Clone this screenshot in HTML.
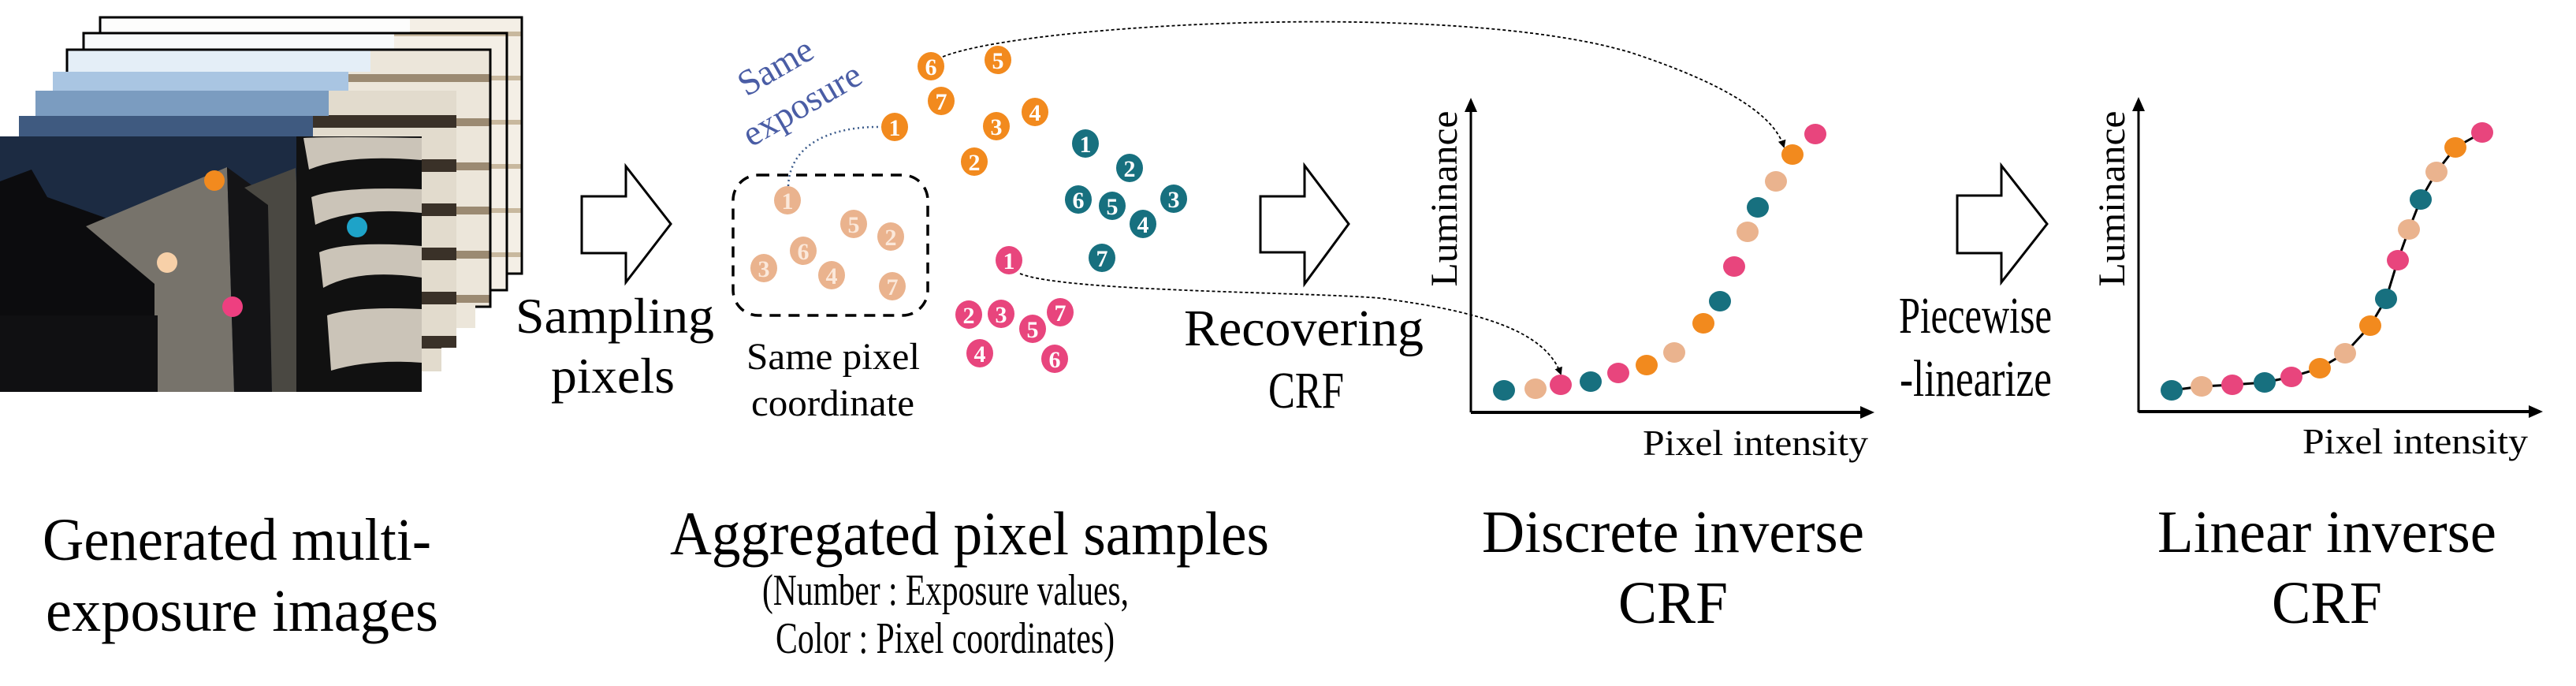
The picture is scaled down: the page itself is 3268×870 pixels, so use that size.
<!DOCTYPE html>
<html><head><meta charset="utf-8"><style>
html,body{margin:0;padding:0;background:#fff;}
svg{display:block;}
svg, svg text{font-family:"Liberation Serif","DejaVu Serif","Noto Serif CJK SC",serif;}
</style></head><body>
<svg width="3268" height="870" viewBox="0 0 3268 870" xmlns="http://www.w3.org/2000/svg">
<defs>
<marker id="ah" markerWidth="10" markerHeight="10" refX="8" refY="5" orient="auto" markerUnits="userSpaceOnUse"><path d="M0,0 L10,5 L0,10 z" fill="#000"/></marker>
<marker id="ax" markerWidth="18" markerHeight="16" refX="14" refY="8" orient="auto" markerUnits="userSpaceOnUse"><path d="M0,0 L18,8 L0,16 z" fill="#000"/></marker>
<pattern id="st1" width="60" height="56" patternUnits="userSpaceOnUse"><rect width="60" height="56" fill="#f4efe6"/><rect y="40" width="60" height="6" fill="#c8b89e"/></pattern>
<pattern id="st2" width="60" height="56" patternUnits="userSpaceOnUse"><rect width="60" height="56" fill="#ece6da"/><rect y="38" width="60" height="10" fill="#9b8a72"/></pattern>
<pattern id="st3" width="60" height="56" patternUnits="userSpaceOnUse"><rect width="60" height="56" fill="#e2dbcd"/><rect y="34" width="60" height="16" fill="#3a3128"/></pattern>
</defs>
<rect width="3268" height="870" fill="#fff"/>

<rect x="127" y="22" width="535" height="325" fill="#fdfdfc"/>
<rect x="520" y="22" width="142" height="325" fill="url(#st1)"/>
<rect x="127" y="22" width="535" height="325" fill="none" stroke="#000" stroke-width="3"/>
<rect x="106" y="42" width="537" height="326" fill="#f8fafb"/>
<rect x="500" y="42" width="143" height="326" fill="url(#st1)"/>
<rect x="106" y="42" width="537" height="326" fill="none" stroke="#000" stroke-width="3"/>
<rect x="85" y="63" width="537" height="326" fill="#e4eef7"/>
<rect x="470" y="63" width="152" height="326" fill="url(#st2)"/>
<rect x="85" y="63" width="537" height="326" fill="none" stroke="#000" stroke-width="3"/>
<rect x="67" y="91" width="536" height="325" fill="#a9c5e2"/>
<rect x="442" y="91" width="161" height="325" fill="url(#st2)"/>
<rect x="45" y="115" width="534" height="326" fill="#7b9cc0"/>
<rect x="417" y="115" width="162" height="326" fill="url(#st3)"/>
<rect x="24" y="147" width="536" height="324" fill="#3f5a80"/>
<rect x="397" y="147" width="163" height="324" fill="url(#st3)"/>
<rect x="0" y="173" width="535" height="324" fill="#1c2b42"/>
<polygon points="0,230 40,215 60,250 200,300 200,497 0,497" fill="#0c0c0e"/>
<polygon points="109,287 288,212 297,497 196,497 196,360" fill="#77736b"/>
<polygon points="288,212 340,250 345,497 297,497" fill="#141416"/>
<polygon points="310,238 375,213 390,497 345,497 340,260" fill="#4a4842"/>
<polygon points="0,400 200,400 200,497 0,497" fill="#101012"/>
<rect x="376" y="173" width="159" height="324" fill="#111"/>
<path d="M385 175 Q420 173 535 175 L535 203 Q440 195 392 215 Z" fill="#cbc4b8"/>
<path d="M395 250 Q430 236 535 240 L535 270 Q450 262 400 285 Z" fill="#cbc4b8"/>
<path d="M405 320 Q440 305 535 312 L535 352 Q455 340 410 365 Z" fill="#cbc4b8"/>
<path d="M415 400 Q450 388 535 392 L535 460 Q470 455 420 470 Z" fill="#cbc4b8"/>
<circle cx="272" cy="229" r="13" fill="#f28a1e"/>
<circle cx="453" cy="288" r="13" fill="#1ea3c8"/>
<circle cx="212" cy="333" r="13" fill="#f7d0a8"/>
<circle cx="295" cy="389" r="13" fill="#ee3f80"/>

<polygon points="738,249 794,249 794,211 851,284 794,358 794,321 738,321" fill="#fff" stroke="#000" stroke-width="3"/>
<polygon points="1599,249 1655,249 1655,210 1711,284 1655,360 1655,320 1599,320" fill="#fff" stroke="#000" stroke-width="3"/>
<polygon points="2483,248 2539,248 2539,210 2597,284 2539,358 2539,321 2483,321" fill="#fff" stroke="#000" stroke-width="3"/>

<text x="654" y="422" font-size="64" textLength="252" lengthAdjust="spacingAndGlyphs">Sampling</text>
<text x="699" y="498" font-size="64" textLength="157" lengthAdjust="spacingAndGlyphs">pixels</text>
<text x="1502" y="438" font-size="66" textLength="304" lengthAdjust="spacingAndGlyphs">Recovering</text>
<text x="1609" y="517" font-size="66" textLength="96" lengthAdjust="spacingAndGlyphs">CRF</text>
<text x="2409" y="422" font-size="66" textLength="194" lengthAdjust="spacingAndGlyphs">Piecewise</text>
<text x="2410" y="502" font-size="66" textLength="193" lengthAdjust="spacingAndGlyphs">-linearize</text>

<rect x="930" y="222" width="247" height="178" rx="32" fill="none" stroke="#000" stroke-width="3.5" stroke-dasharray="14,10"/>
<text x="947" y="468" font-size="48" textLength="220" lengthAdjust="spacingAndGlyphs">Same pixel</text>
<text x="953" y="527" font-size="48" textLength="207" lengthAdjust="spacingAndGlyphs">coordinate</text>

<text x="947" y="123" font-size="46" fill="#4a5da5" transform="rotate(-30 947 123)">Same</text>
<text x="953" y="187" font-size="46" fill="#4a5da5" transform="rotate(-30 953 187)">exposure</text>

<path d="M1000 236 C1002 180 1060 160 1118 161" fill="none" stroke="#3a5a8a" stroke-width="2.5" stroke-dasharray="2,4"/>
<path d="M1196 72 C1300 30 1850 0 2070 67 C2200 110 2252 150 2263 186" fill="none" stroke="#000" stroke-width="1.8" stroke-dasharray="4,3" marker-end="url(#ah)"/>
<path d="M1294 347 C1350 370 1650 370 1750 378 C1880 395 1960 420 1980 474" fill="none" stroke="#000" stroke-width="1.8" stroke-dasharray="4,3" marker-end="url(#ah)"/>

<g font-size="30" fill="#fff" text-anchor="middle" font-weight="bold">
<g fill="#f28a1e">
<ellipse cx="1181" cy="84" rx="17" ry="18"/><ellipse cx="1266" cy="76" rx="17" ry="18"/><ellipse cx="1194" cy="128" rx="17" ry="18"/><ellipse cx="1313" cy="142" rx="17" ry="18"/><ellipse cx="1135" cy="161" rx="17" ry="18"/><ellipse cx="1264" cy="160" rx="17" ry="18"/><ellipse cx="1236" cy="205" rx="17" ry="18"/>
</g>
<g fill="#17707f">
<ellipse cx="1377" cy="182" rx="17" ry="18"/><ellipse cx="1433" cy="213" rx="17" ry="18"/><ellipse cx="1368" cy="253" rx="17" ry="18"/><ellipse cx="1411" cy="261" rx="17" ry="18"/><ellipse cx="1489" cy="252" rx="17" ry="18"/><ellipse cx="1450" cy="284" rx="17" ry="18"/><ellipse cx="1398" cy="327" rx="17" ry="18"/>
</g>
<g fill="#e8457d">
<ellipse cx="1280" cy="330" rx="17" ry="18"/><ellipse cx="1229" cy="399" rx="17" ry="18"/><ellipse cx="1270" cy="398" rx="17" ry="18"/><ellipse cx="1310" cy="417" rx="17" ry="18"/><ellipse cx="1345" cy="396" rx="17" ry="18"/><ellipse cx="1243" cy="448" rx="17" ry="18"/><ellipse cx="1338" cy="455" rx="17" ry="18"/>
</g>
<g fill="#eab38e">
<ellipse cx="999" cy="254" rx="17" ry="18"/><ellipse cx="1083" cy="284" rx="17" ry="18"/><ellipse cx="1130" cy="300" rx="17" ry="18"/><ellipse cx="1019" cy="318" rx="17" ry="18"/><ellipse cx="969" cy="340" rx="17" ry="18"/><ellipse cx="1055" cy="349" rx="17" ry="18"/><ellipse cx="1132" cy="363" rx="17" ry="18"/>
</g>
<text x="1181" y="95">6</text><text x="1266" y="87">5</text><text x="1194" y="139">7</text><text x="1313" y="153">4</text><text x="1135" y="172">1</text><text x="1264" y="171">3</text><text x="1236" y="216">2</text>
<text x="1377" y="193">1</text><text x="1433" y="224">2</text><text x="1368" y="264">6</text><text x="1411" y="272">5</text><text x="1489" y="263">3</text><text x="1450" y="295">4</text><text x="1398" y="338">7</text>
<text x="1280" y="341">1</text><text x="1229" y="410">2</text><text x="1270" y="409">3</text><text x="1310" y="428">5</text><text x="1345" y="407">7</text><text x="1243" y="459">4</text><text x="1338" y="466">6</text>
<g fill="#fbe8da"><text x="999" y="265">1</text><text x="1083" y="295">5</text><text x="1130" y="311">2</text><text x="1019" y="329">6</text><text x="969" y="351">3</text><text x="1055" y="360">4</text><text x="1132" y="374">7</text></g>
</g>

<line x1="1866" y1="523" x2="1866" y2="128" stroke="#000" stroke-width="3" marker-end="url(#ax)"/>
<line x1="1866" y1="523" x2="2374" y2="523" stroke="#000" stroke-width="4" marker-end="url(#ax)"/>
<text x="0" y="0" font-size="48" text-anchor="middle" textLength="223" lengthAdjust="spacingAndGlyphs" transform="translate(1848 252) rotate(-90)">Luminance</text>
<text x="2084" y="577" font-size="46" textLength="286" lengthAdjust="spacingAndGlyphs">Pixel intensity</text>
<g>
<ellipse cx="1908" cy="495" rx="14" ry="13" fill="#17707f"/><ellipse cx="1948" cy="493" rx="14" ry="13" fill="#eab38e"/><ellipse cx="1980" cy="488" rx="14" ry="13" fill="#e8457d"/><ellipse cx="2018" cy="484" rx="14" ry="13" fill="#17707f"/><ellipse cx="2053" cy="473" rx="14" ry="13" fill="#e8457d"/><ellipse cx="2089" cy="463" rx="14" ry="13" fill="#f28a1e"/><ellipse cx="2124" cy="447" rx="14" ry="13" fill="#eab38e"/><ellipse cx="2161" cy="410" rx="14" ry="13" fill="#f28a1e"/><ellipse cx="2182" cy="382" rx="14" ry="13" fill="#17707f"/><ellipse cx="2200" cy="338" rx="14" ry="13" fill="#e8457d"/><ellipse cx="2217" cy="294" rx="14" ry="13" fill="#eab38e"/><ellipse cx="2230" cy="263" rx="14" ry="13" fill="#17707f"/><ellipse cx="2253" cy="230" rx="14" ry="13" fill="#eab38e"/><ellipse cx="2274" cy="196" rx="14" ry="13" fill="#f28a1e"/><ellipse cx="2303" cy="170" rx="14" ry="13" fill="#e8457d"/>
</g>

<line x1="2713" y1="523" x2="2713" y2="127" stroke="#000" stroke-width="3" marker-end="url(#ax)"/>
<line x1="2713" y1="522" x2="3222" y2="522" stroke="#000" stroke-width="4" marker-end="url(#ax)"/>
<text x="0" y="0" font-size="48" text-anchor="middle" textLength="223" lengthAdjust="spacingAndGlyphs" transform="translate(2695 252) rotate(-90)">Luminance</text>
<text x="2921" y="575" font-size="46" textLength="286" lengthAdjust="spacingAndGlyphs">Pixel intensity</text>
<polyline points="2755,495 2793,490 2832,488 2873,485 2907,478 2943,467 2975,448 3007,413 3027,379 3042,330 3056,291 3071,253 3091,218 3115,187 3149,168" fill="none" stroke="#000" stroke-width="3"/>
<g>
<ellipse cx="2755" cy="495" rx="14" ry="13" fill="#17707f"/><ellipse cx="2793" cy="490" rx="14" ry="13" fill="#eab38e"/><ellipse cx="2832" cy="488" rx="14" ry="13" fill="#e8457d"/><ellipse cx="2873" cy="485" rx="14" ry="13" fill="#17707f"/><ellipse cx="2907" cy="478" rx="14" ry="13" fill="#e8457d"/><ellipse cx="2943" cy="467" rx="14" ry="13" fill="#f28a1e"/><ellipse cx="2975" cy="448" rx="14" ry="13" fill="#eab38e"/><ellipse cx="3007" cy="413" rx="14" ry="13" fill="#f28a1e"/><ellipse cx="3027" cy="379" rx="14" ry="13" fill="#17707f"/><ellipse cx="3042" cy="330" rx="14" ry="13" fill="#e8457d"/><ellipse cx="3056" cy="291" rx="14" ry="13" fill="#eab38e"/><ellipse cx="3071" cy="253" rx="14" ry="13" fill="#17707f"/><ellipse cx="3091" cy="218" rx="14" ry="13" fill="#eab38e"/><ellipse cx="3115" cy="187" rx="14" ry="13" fill="#f28a1e"/><ellipse cx="3149" cy="168" rx="14" ry="13" fill="#e8457d"/>
</g>

<text x="54" y="710" font-size="76" textLength="493" lengthAdjust="spacingAndGlyphs">Generated multi-</text>
<text x="58" y="800" font-size="76" textLength="498" lengthAdjust="spacingAndGlyphs">exposure images</text>
<text x="850" y="703" font-size="78" textLength="760" lengthAdjust="spacingAndGlyphs">Aggregated pixel samples</text>
<text x="967" y="767" font-size="56" textLength="465" lengthAdjust="spacingAndGlyphs">(Number : Exposure values,</text>
<text x="984" y="828" font-size="56" textLength="430" lengthAdjust="spacingAndGlyphs">Color : Pixel coordinates)</text>
<text x="1880" y="700" font-size="76" textLength="485" lengthAdjust="spacingAndGlyphs">Discrete inverse</text>
<text x="2053" y="790" font-size="76" textLength="139" lengthAdjust="spacingAndGlyphs">CRF</text>
<text x="2737" y="700" font-size="76" textLength="430" lengthAdjust="spacingAndGlyphs">Linear inverse</text>
<text x="2882" y="790" font-size="76" textLength="140" lengthAdjust="spacingAndGlyphs">CRF</text>
</svg>
</body></html>
